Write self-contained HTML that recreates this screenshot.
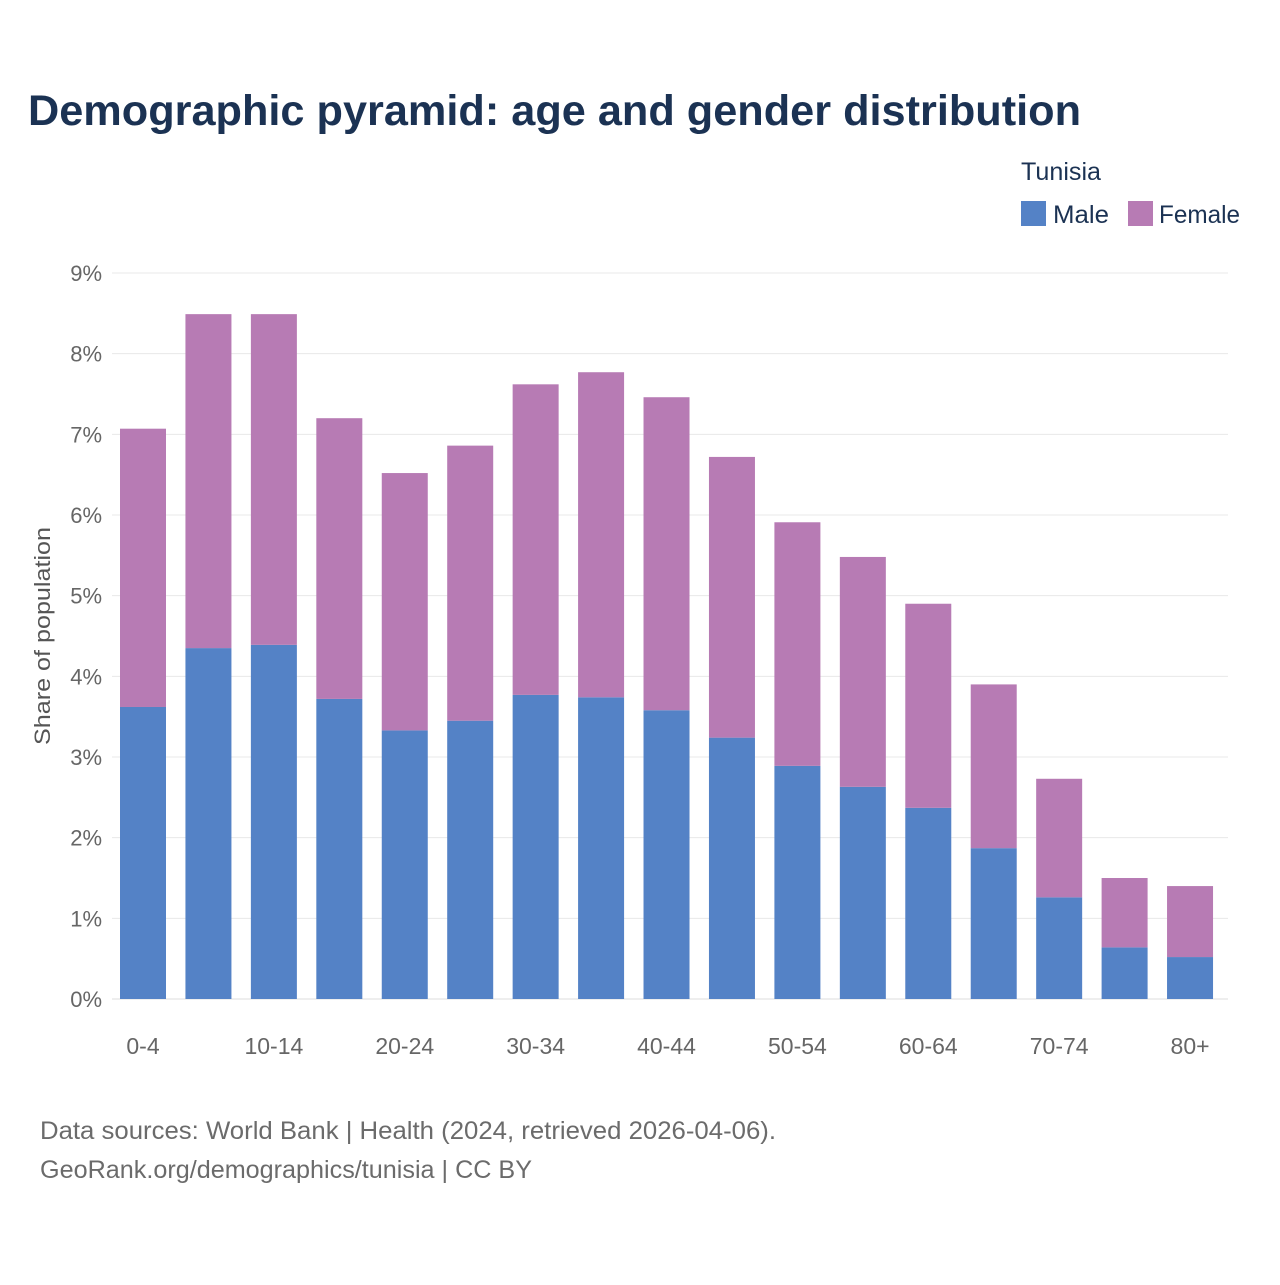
<!DOCTYPE html>
<html><head><meta charset="utf-8">
<style>
body{margin:0;background:#fff;font-family:"Liberation Sans",sans-serif;}
#wrap{position:relative;width:1280px;height:1280px;}
</style></head>
<body>
<div id="wrap">
<svg id="chart" width="1280" height="1280">
<text x="28" y="125" font-size="43" font-weight="bold" fill="#1b3253" textLength="1053" lengthAdjust="spacingAndGlyphs">Demographic pyramid: age and gender distribution</text>
<text x="1021" y="180" font-size="25" fill="#1b3253" textLength="80" lengthAdjust="spacingAndGlyphs">Tunisia</text>
<rect x="1021" y="201" width="25" height="25" fill="#5482c6"/>
<text x="1053" y="223" font-size="25" fill="#1b3253" textLength="56" lengthAdjust="spacingAndGlyphs">Male</text>
<rect x="1128" y="201" width="25" height="25" fill="#b77bb4"/>
<text x="1159" y="223" font-size="25" fill="#1b3253" textLength="81" lengthAdjust="spacingAndGlyphs">Female</text>
<text transform="translate(50,636) rotate(-90)" text-anchor="middle" font-size="22" fill="#555" textLength="218" lengthAdjust="spacingAndGlyphs">Share of population</text>
<g id="grid"></g>
<g id="bars"></g>
<g id="xlabels"></g>
<text x="40" y="1139" font-size="25" fill="#6b6b6b" textLength="736" lengthAdjust="spacingAndGlyphs">Data sources: World Bank | Health (2024, retrieved 2026-04-06).</text>
<text x="40" y="1178" font-size="25" fill="#6b6b6b" textLength="492" lengthAdjust="spacingAndGlyphs">GeoRank.org/demographics/tunisia | CC BY</text>
</svg>
</div>
<script>
const categories=["0-4","5-9","10-14","15-19","20-24","25-29","30-34","35-39","40-44","45-49","50-54","55-59","60-64","65-69","70-74","75-79","80+"];
const male=[3.62,4.35,4.39,3.72,3.33,3.45,3.77,3.74,3.58,3.24,2.89,2.63,2.37,1.87,1.26,0.64,0.52];
const female=[3.45,4.14,4.10,3.48,3.19,3.41,3.85,4.03,3.88,3.48,3.02,2.85,2.53,2.03,1.47,0.86,0.88];
const yTicks=[0,1,2,3,4,5,6,7,8,9];
const xLabelShown=["0-4","10-14","20-24","30-34","40-44","50-54","60-64","70-74","80+"];

const NS="http://www.w3.org/2000/svg";
const gx0=112,gx1=1228,y0=999,y9=273;
const band=65.44, bx0=143-band/2;
function xPos(i){return bx0+band*i+band/2;}
function yPos(v){return y0-(y0-y9)*v/9;}
function mk(tag,attrs,parent){const e=document.createElementNS(NS,tag);for(const k in attrs)e.setAttribute(k,attrs[k]);parent.appendChild(e);return e;}
const grid=document.getElementById('grid'),bars=document.getElementById('bars'),xl=document.getElementById('xlabels');
yTicks.forEach(t=>{
  const l=mk('line',{x1:gx0,x2:gx1,y1:yPos(t),y2:yPos(t),stroke:t===0?'#ddd':'#e8e8e8','stroke-width':1},grid);
  
  
  const tx=mk('text',{x:102,y:yPos(t)+8,'text-anchor':'end','font-size':22,fill:'#666'},grid);
  tx.textContent=t+'%';
  
  
});
const bw=46;
categories.forEach((c,i)=>{
  const cx=xPos(i);
  const m=mk('rect',{x:cx-bw/2,y:yPos(male[i]),width:bw,height:yPos(0)-yPos(male[i]),fill:'#5482c6'},bars);
  
  
  const f=mk('rect',{x:cx-bw/2,y:yPos(male[i]+female[i]),width:bw,height:yPos(male[i])-yPos(male[i]+female[i]),fill:'#b77bb4'},bars);
  
  
  if(xLabelShown.includes(c)){
    const t=mk('text',{x:cx,y:1054,'text-anchor':'middle','font-size':23,fill:'#666'},xl);
    t.textContent=c;
    
    
  }
});
</script>
</body></html>
